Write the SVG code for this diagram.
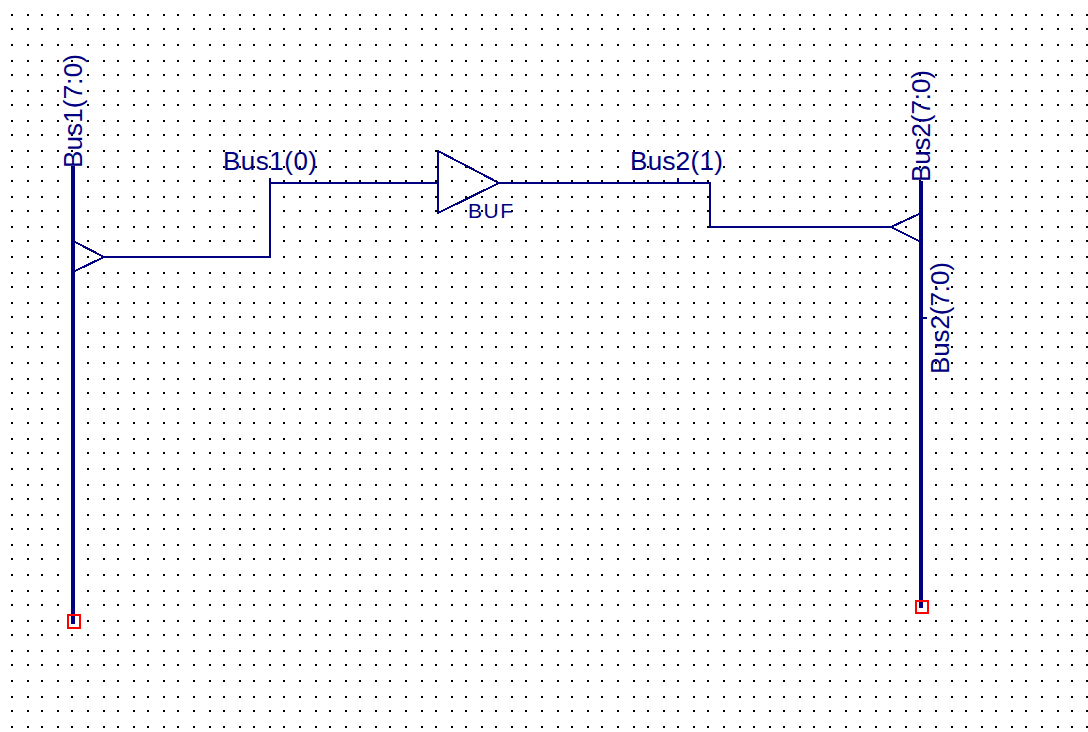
<svg xmlns="http://www.w3.org/2000/svg" width="1088" height="732" viewBox="0 0 1088 732">
<style>
.grid{fill:none;stroke:#000;stroke-width:2;stroke-dasharray:2 12 2 14 2 14 2 12 2 14 2 12 2 14 2 12 2 14 2 14 2 12 2 14 2 12 2 14 2 12 2 14 2 14 2 12 2 14 2 12 2 14 2 12 2 14 2 14 2 12 2 14 2 12 2 14 2 12 2 14 2 14 2 12 2 14 2 12 2 14 2 12 2 14 2 14 2 12 2 14 2 12 2 14 2 12 2 14 2 14 2 12 2 14 2 40;shape-rendering:crispEdges}
.wire{fill:none;stroke:#000080;stroke-width:2;shape-rendering:crispEdges}
.bus{fill:none;stroke:#000080;stroke-width:4;shape-rendering:crispEdges}
.sym{fill:none;stroke:#000080;stroke-width:2;shape-rendering:crispEdges}
.end{fill:none;stroke:#ff0000;stroke-width:2;shape-rendering:crispEdges}
text{font-family:"Liberation Sans",Arial,sans-serif;font-size:26px;fill:#000080}
</style>
<rect width="1088" height="732" fill="#fff"/>
<path class="grid" d="M12 14V732M28 14V732M42 14V732M58 14V732M72 14V732M88 14V732M104 14V732M118 14V732M134 14V732M148 14V732M164 14V732M178 14V732M194 14V732M210 14V732M224 14V732M240 14V732M254 14V732M270 14V732M284 14V732M300 14V732M316 14V732M330 14V732M346 14V732M360 14V732M376 14V732M390 14V732M406 14V732M422 14V732M436 14V732M452 14V732M466 14V732M482 14V732M496 14V732M512 14V732M526 14V732M542 14V732M558 14V732M572 14V732M588 14V732M602 14V732M618 14V732M634 14V732M648 14V732M664 14V732M678 14V732M694 14V732M708 14V732M724 14V732M740 14V732M754 14V732M770 14V732M784 14V732M800 14V732M814 14V732M830 14V732M846 14V732M860 14V732M876 14V732M890 14V732M906 14V732M920 14V732M936 14V732M952 14V732M966 14V732M982 14V732M996 14V732M1012 14V732M1026 14V732M1042 14V732M1058 14V732M1072 14V732M1087 14V732"/>
<g id="connectors">
<path class="wire" d="M104 257H270V183H438"/>
<path class="wire" d="M270 178V183"/>
<path class="wire" d="M499 183H710V227H891"/>
<path class="wire" d="M678 178V183"/>
<path class="wire" d="M923 318H927"/>
</g>
<g id="bus1">
<path class="bus" d="M73 166V624"/>
<path class="sym" d="M75 242L104 257L75 271"/>
<rect class="end" x="68" y="615" width="12" height="13"/>
<text transform="translate(82 168) rotate(-90)" textLength="114">Bus1(7:0)</text>
</g>
<g id="bus2">
<path class="bus" d="M921 181V608"/>
<path class="sym" d="M919 214L891 227L919 241"/>
<rect class="end" x="916" y="601" width="12" height="12"/>
<text transform="translate(930 182) rotate(-90)" textLength="112">Bus2(7:0)</text>
<text transform="translate(949 374) rotate(-90)" textLength="112">Bus2(7:0)</text>
</g>
<g id="buf">
<path class="sym" d="M438 151V213L499 183Z"/>
<text x="468" y="218" style="font-size:21px" textLength="45">BUF</text>
</g>
<g id="label-bus1-0"><text x="223" y="170" textLength="94">Bus1(0)</text></g>
<g id="label-bus2-1"><text x="630" y="170" textLength="93">Bus2(1)</text></g>
</svg>
